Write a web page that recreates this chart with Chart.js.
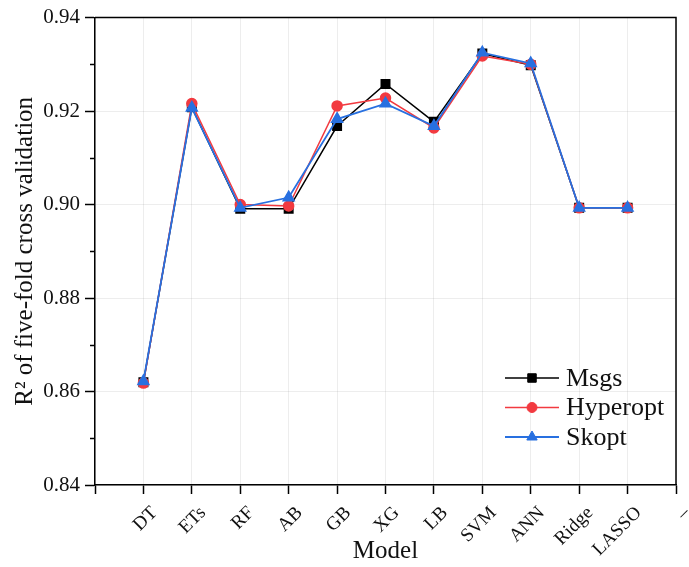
<!DOCTYPE html>
<html>
<head>
<meta charset="utf-8">
<script src="https://cdn.jsdelivr.net/npm/chart.js@4/dist/chart.umd.min.js"></script>
<style>
  html, body { margin: 0; padding: 0; background: #fff; }
  #wrap { width: 689px; height: 567px; }
</style>
</head>
<body>
<div id="wrap"><canvas id="c" width="689" height="567"></canvas></div>
<script>
// Models on the x axis (the axis runs one slot past each end)
const models = ['DT', 'ETs', 'RF', 'AB', 'GB', 'XG', 'LB', 'SVM', 'ANN', 'Ridge', 'LASSO'];
const xTickLabels = ['', ...models, '–'];

// R² of five-fold cross validation per tuning method
const msgs      = [0.8620, 0.9208, 0.8991, 0.8991, 0.9168, 0.9258, 0.9177, 0.9323, 0.9298, 0.8993, 0.8993];
const hyperopt  = [0.8618, 0.9216, 0.9000, 0.8997, 0.9211, 0.9228, 0.9164, 0.9318, 0.9300, 0.8993, 0.8993];
const skopt     = [0.8622, 0.9207, 0.8993, 0.9015, 0.9183, 0.9216, 0.9168, 0.9325, 0.9302, 0.8993, 0.8993];

// Y axis range and major ticks
const yMin = 0.84, yMax = 0.94, yStep = 0.02;

const SERIF = '"Liberation Serif", "Times New Roman", serif';
const toPoints = vals => vals.map((v, i) => ({ x: models[i], y: v }));

// Closes the plot box and adds minor y ticks and the inset legend
const framePlugin = {
  id: 'frame',
  afterDraw(chart) {
    const { ctx, chartArea: a, scales } = chart;
    ctx.save();
    ctx.strokeStyle = '#000';
    ctx.lineWidth = 1.5;
    ctx.beginPath();
    ctx.moveTo(a.left, a.top);
    ctx.lineTo(a.right, a.top);
    ctx.lineTo(a.right, a.bottom);
    ctx.stroke();

    // minor ticks halfway between major y ticks
    const y = scales.y;
    ctx.beginPath();
    for (let v = yMin + yStep / 2; v < yMax; v += yStep) {
      const py = Math.round(y.getPixelForValue(v)) + 0.5;
      ctx.moveTo(a.left - 5, py);
      ctx.lineTo(a.left, py);
    }
    ctx.stroke();

    // legend
    const ds = chart.data.datasets;
    const lx0 = 505, lx1 = 559, tx = 566;
    const rows = [378, 407.5, 437];
    ctx.font = '26px ' + SERIF;
    ctx.textBaseline = 'middle';
    ctx.textAlign = 'left';
    ds.forEach((d, i) => {
      const ry = rows[i];
      ctx.strokeStyle = d.borderColor;
      ctx.lineWidth = d.borderWidth;
      ctx.beginPath();
      ctx.moveTo(lx0, ry);
      ctx.lineTo(lx1, ry);
      ctx.stroke();
      ctx.fillStyle = d.pointBackgroundColor;
      ctx.strokeStyle = d.pointBorderColor;
      ctx.lineWidth = 1;
      Chart.helpers.drawPoint(ctx, { pointStyle: d.pointStyle, radius: d.pointRadius, borderWidth: 1 }, (lx0 + lx1) / 2, ry);
      ctx.fillStyle = '#111';
      ctx.fillText(d.label, tx, ry + 1);
    });
    ctx.restore();
  }
};

const gridColor = 'rgba(0,0,0,0.07)';

new Chart(document.getElementById('c'), {
  type: 'line',
  data: {
    datasets: [
      {
        label: 'Msgs', data: toPoints(msgs), order: 2,
        borderColor: '#000', borderWidth: 1.5,
        pointStyle: 'rect', pointRadius: 6,
        pointBackgroundColor: '#000', pointBorderColor: '#000'
      },
      {
        label: 'Hyperopt', data: toPoints(hyperopt), order: 1,
        borderColor: '#f23a40', borderWidth: 1.5,
        pointStyle: 'circle', pointRadius: 5,
        pointBackgroundColor: '#f23a40', pointBorderColor: '#f23a40'
      },
      {
        label: 'Skopt', data: toPoints(skopt), order: 0,
        borderColor: '#2870e0', borderWidth: 1.8,
        pointStyle: 'triangle', pointRadius: 6,
        pointBackgroundColor: '#2870e0', pointBorderColor: '#2870e0'
      }
    ]
  },
  options: {
    responsive: false,
    animation: false,
    layout: { padding: { left: 0, right: 13, top: 16, bottom: 0 } },
    plugins: { legend: { display: false }, tooltip: { enabled: false } },
    elements: { line: { tension: 0 } },
    scales: {
      x: {
        type: 'category',
        labels: xTickLabels,
        offset: false,
        afterFit(scale) {
          scale.height = 82;
          scale.paddingLeft = 0;
          scale.paddingRight = 0;
        },
        border: { color: '#000', width: 1.5 },
        grid: {
          color: gridColor,
          tickColor: '#000',
          tickLength: 9,
          tickWidth: 1.5,
          drawOnChartArea: true
        },
        ticks: {
          autoSkip: false,
          minRotation: 45,
          maxRotation: 45,
          padding: 8,
          labelOffset: 11,
          color: '#111',
          font: { family: SERIF, size: 19 }
        },
        title: {
          display: true,
          text: 'Model',
          color: '#111',
          font: { family: SERIF, size: 25 },
          padding: { top: 0, bottom: 1 }
        }
      },
      y: {
        min: yMin,
        max: yMax,
        afterFit(scale) { scale.width = 95; },
        border: { color: '#000', width: 1.5 },
        grid: {
          color: gridColor,
          tickColor: '#000',
          tickLength: 10,
          tickWidth: 1.5
        },
        ticks: {
          stepSize: yStep,
          padding: 5,
          color: '#111',
          font: { family: SERIF, size: 21 },
          callback: v => v.toFixed(2)
        },
        title: {
          display: true,
          text: 'R² of five-fold cross validation',
          color: '#111',
          font: { family: SERIF, size: 25 },
          padding: { top: 10, bottom: 0 }
        }
      }
    }
  },
  plugins: [framePlugin]
});
</script>
</body>
</html>
